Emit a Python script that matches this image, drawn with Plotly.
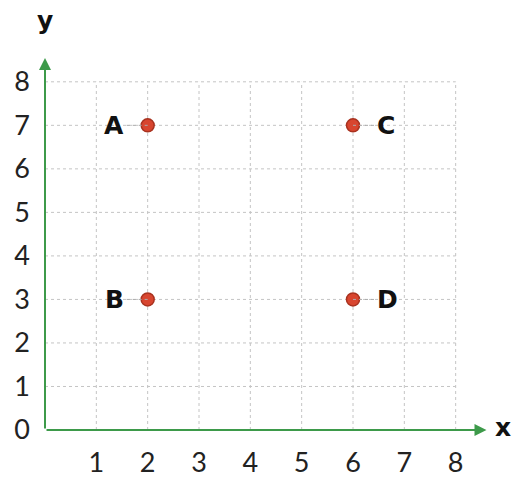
import plotly.graph_objects as go

# 점 데이터
labels = ['A', 'B', 'C', 'D']
xs = [2, 2, 6, 6]
ys = [7, 3, 7, 3]
label_side = ['left', 'left', 'right', 'right']
ticks = [0, 1, 2, 3, 4, 5, 6, 7, 8]

fig = go.Figure()

# 격자 (0~8 까지만)
grid = []
for t in ticks[1:]:
    grid.append(dict(type='line', x0=t, x1=t, y0=0, y1=8, layer='below',
                     line=dict(color='#c4c4c4', width=1, dash='dot')))
    grid.append(dict(type='line', x0=0, x1=8, y0=t, y1=t, layer='below',
                     line=dict(color='#c4c4c4', width=1, dash='dot')))

# 점 라벨 옆의 짧은 선
for x, y, side in zip(xs, ys, label_side):
    d = -0.45 if side == 'left' else 0.45
    grid.append(dict(type='line', x0=x, x1=x + d, y0=y, y1=y,
                     line=dict(color='#aaaaaa', width=1, dash='dot')))

fig.add_trace(go.Scatter(
    x=xs, y=ys, mode='markers',
    marker=dict(size=13, color='#d8452f', line=dict(color='#a8321f', width=1.5)),
    showlegend=False, hoverinfo='skip'
))

annots = []
for x, y, lab, side in zip(xs, ys, labels, label_side):
    annots.append(dict(x=x, y=y, text='<b>' + lab + '</b>', showarrow=False,
                       xanchor='right' if side == 'left' else 'left',
                       xshift=-22 if side == 'left' else 22,
                       font=dict(size=25, color='#111111', family='DejaVu Sans')))

# 축 화살표
annots.append(dict(x=8.6, y=0, ax=0, ay=0, axref='x', ayref='y', xref='x', yref='y',
                   showarrow=True, arrowhead=2, arrowsize=1.2, arrowwidth=2, arrowcolor='#3d9a4a', text=''))
annots.append(dict(x=0, y=8.55, ax=0, ay=0, axref='x', ayref='y', xref='x', yref='y',
                   showarrow=True, arrowhead=2, arrowsize=1.2, arrowwidth=2, arrowcolor='#3d9a4a', text=''))
annots.append(dict(x=8.72, y=0.05, text='<b>x</b>', showarrow=False, xanchor='left',
                   font=dict(size=25, color='#111111', family='DejaVu Sans')))
annots.append(dict(x=0, y=1.07, xref='x', yref='paper', text='<b>y</b>', showarrow=False,
                   yanchor='middle', font=dict(size=25, color='#111111', family='DejaVu Sans')))

fig.update_layout(
    width=512, height=479,
    margin=dict(l=45, r=5, t=47, b=49),
    paper_bgcolor='white', plot_bgcolor='white',
    shapes=grid, annotations=annots,
    xaxis=dict(range=[0, 9.0], tickvals=ticks[1:], showgrid=False, zeroline=False,
               showline=False, ticks='', automargin=False, ticklabelstandoff=14,
               tickfont=dict(size=27, color='#222222', family='Lato')),
    yaxis=dict(range=[0, 8.8], tickvals=ticks, showgrid=False, zeroline=False,
               showline=False, ticks='', automargin=False, ticklabelstandoff=14,
               tickfont=dict(size=27, color='#222222', family='Lato')),
)

# 브라우저 기본 body 여백 제거
fig.write_html("out.html", config={'displayModeBar': False},
               post_script="document.body.style.margin='0';")
